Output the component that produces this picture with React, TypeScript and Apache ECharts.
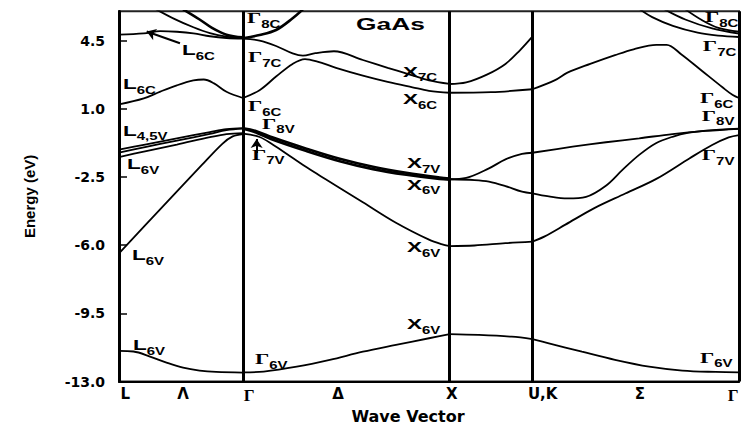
import React, { useEffect, useRef } from "react";
import * as echarts from "echarts";

// ---- axes ----
const symPointsK = [0, 0.6, 1.6, 2.0, 3.0];
const symLabelK = [0.03, 0.31, 0.63, 1.06, 1.61, 2.05, 2.52, 2.972];
const symLabelText = ["L", "Λ", "Γ", "Δ", "X", "U,K", "Σ", "Γ"];
const yTicks = [-13, -9.5, -6, -2.5, 1, 4.5];

// ---- bands, [k, E(eV)] ----
// L -> Gamma
const lgC0 = [[0, 1.22], [0.12, 1.53], [0.2, 1.88], [0.28, 2.2], [0.36, 2.45], [0.41, 2.5], [0.46, 2.3], [0.52, 1.87], [0.6, 1.55]];
const lgC1 = [[0, 4.8], [0.12, 4.87], [0.2, 4.98], [0.28, 4.95], [0.36, 4.87], [0.44, 4.72], [0.52, 4.63], [0.6, 4.6]];
const lgC2 = [[0.18, 6.1], [0.27, 5.6], [0.36, 5.18], [0.44, 4.88], [0.52, 4.7], [0.6, 4.62]];
const lgC3 = [[0.31, 6.1], [0.39, 5.58], [0.45, 5.15], [0.52, 4.8], [0.6, 4.66]];
const lgV1a = [[0, -1.1], [0.12, -0.85], [0.28, -0.52], [0.44, -0.2], [0.52, -0.05], [0.6, 0]];
const lgV1b = [[0, -1.25], [0.12, -0.98], [0.28, -0.64], [0.44, -0.29], [0.52, -0.1], [0.6, -0.02]];
const lgV2 = [[0, -1.48], [0.12, -1.2], [0.28, -0.84], [0.44, -0.46], [0.52, -0.3], [0.6, -0.25]];
const lgV3 = [[0, -6.42], [0.2, -4.15], [0.4, -1.9], [0.5, -0.8], [0.55, -0.42], [0.6, -0.3]];
const lgV4 = [[0, -11.43], [0.07, -11.46], [0.15, -11.72], [0.23, -12.03], [0.31, -12.29], [0.39, -12.44], [0.47, -12.51], [0.6, -12.54]];
// Gamma -> X
const gxC8 = [[0.6, 4.62], [0.68, 4.78], [0.76, 5.04], [0.84, 5.64], [0.89, 6.1]];
const gxC7 = [[0.6, 4.6], [0.68, 4.5], [0.76, 4.22], [0.84, 3.84], [0.89, 3.72], [0.95, 3.85], [1.04, 3.95], [1.18, 3.5], [1.3, 3.1], [1.4, 2.78], [1.5, 2.45], [1.6, 2.27]];
const gxC6 = [[0.6, 1.55], [0.68, 1.95], [0.76, 2.65], [0.84, 3.3], [0.9, 3.55], [0.96, 3.42], [1.05, 3.1], [1.18, 2.7], [1.3, 2.38], [1.42, 2.1], [1.5, 1.92], [1.6, 1.82]];
const gxH1 = [[0.6, 0], [0.665, -0.15], [0.745, -0.48], [0.907, -1.05], [1.068, -1.57], [1.229, -1.98], [1.39, -2.29], [1.551, -2.53], [1.6, -2.58]];
const gxH2 = [[0.6, -0.03], [0.665, -0.23], [0.745, -0.59], [0.907, -1.17], [1.068, -1.69], [1.229, -2.1], [1.39, -2.39], [1.551, -2.61], [1.6, -2.64]];
const gxV3 = [[0.6, -0.28], [0.68, -0.45], [0.745, -0.85], [0.83, -1.45], [0.91, -2.02], [1.0, -2.62], [1.07, -3.08], [1.18, -3.8], [1.34, -4.85], [1.5, -5.72], [1.56, -5.95], [1.6, -6.05]];
const gxV4 = [[0.6, -12.53], [0.7, -12.49], [0.86, -12.24], [1.02, -11.89], [1.18, -11.47], [1.34, -11.12], [1.5, -10.78], [1.6, -10.57]];
// X -> U,K
const xuC7 = [[1.6, 2.27], [1.68, 2.35], [1.78, 2.75], [1.87, 3.3], [1.94, 4.0], [2.0, 4.7]];
const xuC6 = [[1.6, 1.82], [1.8, 1.85], [2.0, 2.0]];
const xuV1 = [[1.6, -2.62], [1.68, -2.55], [1.79, -2.06], [1.87, -1.6], [1.95, -1.32], [2.0, -1.26]];
const xuV2 = [[1.6, -2.62], [1.72, -2.66], [1.79, -2.74], [1.87, -2.97], [1.95, -3.26], [2.0, -3.34]];
const xuV3 = [[1.6, -6.05], [1.72, -6.02], [1.87, -5.9], [2.0, -5.82]];
const xuV4 = [[1.6, -10.57], [1.74, -10.61], [1.9, -10.7], [2.0, -10.82]];
// U,K -> Gamma
const ugC6 = [[2.0, 2.0], [2.11, 2.47], [2.17, 2.85], [2.28, 3.3], [2.4, 3.75], [2.49, 4.05], [2.6, 4.28], [2.65, 4.28], [2.72, 3.8], [2.82, 2.95], [2.92, 2.1], [2.97, 1.7], [3.0, 1.55]];
const ugC8a = [[2.52, 6.1], [2.58, 5.7], [2.68, 5.25], [2.8, 4.9], [2.9, 4.75], [3.0, 4.68]];
const ugC8b = [[2.64, 6.1], [2.74, 5.58], [2.87, 5.12], [3.0, 4.85]];
const ugC8c = [[2.74, 6.1], [2.82, 5.55], [2.9, 5.15], [3.0, 4.95]];
const ugV1 = [[2.0, -1.26], [2.195, -0.95], [2.356, -0.72], [2.517, -0.52], [2.678, -0.3], [2.839, -0.14], [3.0, -0.03]];
const ugV2 = [[2.0, -3.34], [2.08, -3.5], [2.17, -3.6], [2.26, -3.52], [2.356, -2.95], [2.436, -2.14], [2.517, -1.37], [2.598, -0.77], [2.678, -0.44], [2.758, -0.23], [2.84, -0.12], [3.0, -0.02]];
const ugV3 = [[2.0, -5.82], [2.06, -5.55], [2.16, -4.95], [2.3, -4.1], [2.45, -3.35], [2.6, -2.6], [2.76, -1.55], [2.87, -0.86], [2.95, -0.47], [3.0, -0.35]];
const ugV4 = [[2.0, -10.83], [2.08, -11.04], [2.24, -11.47], [2.4, -11.89], [2.565, -12.24], [2.726, -12.44], [2.887, -12.51], [3.0, -12.53]];

const normalBands = [lgC0, lgC1, lgC2, lgV1a, lgV1b, lgV2, lgV3, lgV4, gxC7, gxC6, gxV3, gxV4, xuC7, xuC6, xuV1, xuV2, xuV3, xuV4, ugC6, ugC8a, ugC8b, ugC8c, ugV1, ugV2, ugV3, ugV4];
const thickBands = [lgC3, gxC8, gxH1, gxH2];

// ---- annotations: level names, anchored (top-left) in [k, E] ----
const bandLabels = [
  { m: "Γ", s: "8C", k: 0.619, E: 6.05 },
  { m: "L", s: "6C", k: 0.305, E: 4.38 },
  { m: "Γ", s: "7C", k: 0.624, E: 4.02 },
  { m: "L", s: "6C", k: 0.019, E: 2.68 },
  { m: "X", s: "7C", k: 1.374, E: 3.3 },
  { m: "X", s: "6C", k: 1.374, E: 1.91 },
  { m: "Γ", s: "6C", k: 0.624, E: 1.55 },
  { m: "L", s: "4,5V", k: 0.019, E: 0.27 },
  { m: "Γ", s: "8V", k: 0.692, E: 0.63 },
  { m: "Γ", s: "7V", k: 0.643, E: -0.96 },
  { m: "L", s: "6V", k: 0.039, E: -1.47 },
  { m: "X", s: "7V", k: 1.393, E: -1.42 },
  { m: "X", s: "6V", k: 1.393, E: -2.5 },
  { m: "L", s: "6V", k: 0.063, E: -6.14 },
  { m: "X", s: "6V", k: 1.393, E: -5.73 },
  { m: "L", s: "6V", k: 0.068, E: -10.72 },
  { m: "X", s: "6V", k: 1.393, E: -9.64 },
  { m: "Γ", s: "6V", k: 0.658, E: -11.48 },
  { m: "Γ", s: "6V", k: 2.811, E: -11.38 },
  { m: "Γ", s: "8C", k: 2.835, E: 6.08 },
  { m: "Γ", s: "7C", k: 2.825, E: 4.63 },
  { m: "Γ", s: "6C", k: 2.811, E: 1.96 },
  { m: "Γ", s: "8V", k: 2.82, E: 1.04 },
  { m: "Γ", s: "7V", k: 2.82, E: -1.01 },
];
const arrows = [
  [[0.295, 4.36], [0.134, 4.96]],
  [[0.666, -1.27], [0.666, -0.55]],
];
const chartTitle = { text: "GaAs", k: 1.147, E: 5.78 };

const SANS = "Liberation Sans, Arial, sans-serif";
const SERIF = "Liberation Serif, Times New Roman, serif";
const WIDE = "DejaVu Sans, Verdana, sans-serif";

export default function App() {
  const ref = useRef<HTMLDivElement>(null);
  useEffect(() => {
    document.body.style.margin = "0";
    const chart = echarts.init(ref.current!, null, { renderer: "svg" });
    const lineBase = (data: number[][], width: number) => ({
      type: "line",
      data,
      symbol: "none",
      showSymbol: false,
      smooth: 0.35,
      silent: true,
      lineStyle: { color: "#000", width },
      emphasis: { disabled: true },
      z: 3,
    });
    const series: any[] = [
      ...normalBands.map((d) => lineBase(d, 1.8)),
      ...thickBands.map((d) => lineBase(d, 2.6)),
    ];
    series[0].markLine = {
      silent: true,
      symbol: "none",
      label: { show: false },
      lineStyle: { color: "#000", width: 3, type: "solid" },
      emphasis: { disabled: true },
      data: symPointsK.map((k) => ({ xAxis: k })),
    };
    series[1].markLine = {
      silent: true,
      symbol: ["none", "arrow"],
      symbolSize: 9,
      label: { show: false },
      lineStyle: { color: "#000", width: 2, type: "solid" },
      emphasis: { disabled: true },
      data: arrows.map(([a, b]) => [{ coord: a }, { coord: b }]),
    };

    chart.setOption({
      animation: false,
      backgroundColor: "#fff",
      grid: {
        left: 119,
        right: 2,
        top: 11.3,
        bottom: 43.5,
        show: true,
        borderColor: "#222",
        borderWidth: 2,
        outerBoundsMode: "none",
      },
      xAxis: {
        type: "value",
        min: 0,
        max: 3,
        axisLine: { show: true, onZero: false, lineStyle: { color: "#000", width: 2 } },
        axisTick: { show: false },
        splitLine: { show: false },
        axisLabel: {
          customValues: symLabelK,
          margin: 5,
          formatter: (v: number) => {
            const i = symLabelK.findIndex((k) => Math.abs(k - v) < 1e-6);
            const t = i >= 0 ? symLabelText[i] : "";
            return t === "Γ" ? `{g|${t}}` : `{r|${t}}`;
          },
          rich: {
            g: { fontFamily: SERIF, fontWeight: "bold", fontSize: 17, color: "#000" },
            r: { fontFamily: WIDE, fontWeight: "bold", fontSize: 15, color: "#000" },
          },
        },
        name: "Wave Vector",
        nameLocation: "middle",
        nameGap: 21,
        nameTextStyle: {
          fontFamily: WIDE,
          fontWeight: "bold",
          fontSize: 16,
          lineHeight: 16,
          color: "#000",
          padding: [0, 42, 0, 0],
        },
      },
      yAxis: {
        type: "value",
        min: -13,
        max: 6,
        axisLine: { show: true, onZero: false, lineStyle: { color: "#000", width: 2.5 } },
        axisTick: {
          show: true,
          inside: true,
          length: 8,
          customValues: yTicks,
          lineStyle: { color: "#000", width: 1.5 },
        },
        axisLabel: {
          customValues: yTicks,
          formatter: (v: number) => v.toFixed(1),
          fontFamily: WIDE,
          fontWeight: "bold",
          fontSize: 14,
          color: "#000",
          margin: 14,
        },
        splitLine: { show: false },
        name: "Energy (eV)",
        nameLocation: "middle",
        nameRotate: 90,
        nameGap: 82,
        nameTextStyle: { fontFamily: SANS, fontWeight: "bold", fontSize: 15, color: "#000" },
      },
      series,
    });

    const rich = {
      g: { fontFamily: SERIF, fontWeight: "bold", fontSize: 15, verticalAlign: "bottom", padding: [0, 0, 4, 0], fill: "#000" },
      l: { fontFamily: SANS, fontWeight: "bold", fontSize: 15, verticalAlign: "bottom", padding: [0, 0, 4, 0], fill: "#000" },
      s: { fontFamily: SANS, fontWeight: "bold", fontSize: 10, verticalAlign: "bottom", fill: "#000" },
    };
    const graphics: any[] = bandLabels.map((lb) => {
      const p = chart.convertToPixel({ gridIndex: 0 }, [lb.k, lb.E]) as number[];
      return {
        type: "text",
        x: p[0],
        y: p[1],
        scaleX: 1.5,
        silent: true,
        z: 10,
        style: {
          text: `{${lb.m === "Γ" ? "g" : "l"}|${lb.m}}{s|${lb.s}}`,
          rich,
          align: "left",
          verticalAlign: "top",
          fill: "#000",
        },
      };
    });
    const tp = chart.convertToPixel({ gridIndex: 0 }, [chartTitle.k, chartTitle.E]) as number[];
    graphics.push({
      type: "text",
      x: tp[0],
      y: tp[1],
      scaleX: 1.55,
      silent: true,
      z: 10,
      style: {
        text: chartTitle.text,
        fontFamily: SANS,
        fontWeight: "bold",
        fontSize: 17,
        fill: "#000",
        align: "left",
        verticalAlign: "top",
      },
    });
    chart.setOption({ graphic: graphics });
    return () => chart.dispose();
  }, []);
  return <div ref={ref} style={{ width: 741, height: 425 }} />;
}
